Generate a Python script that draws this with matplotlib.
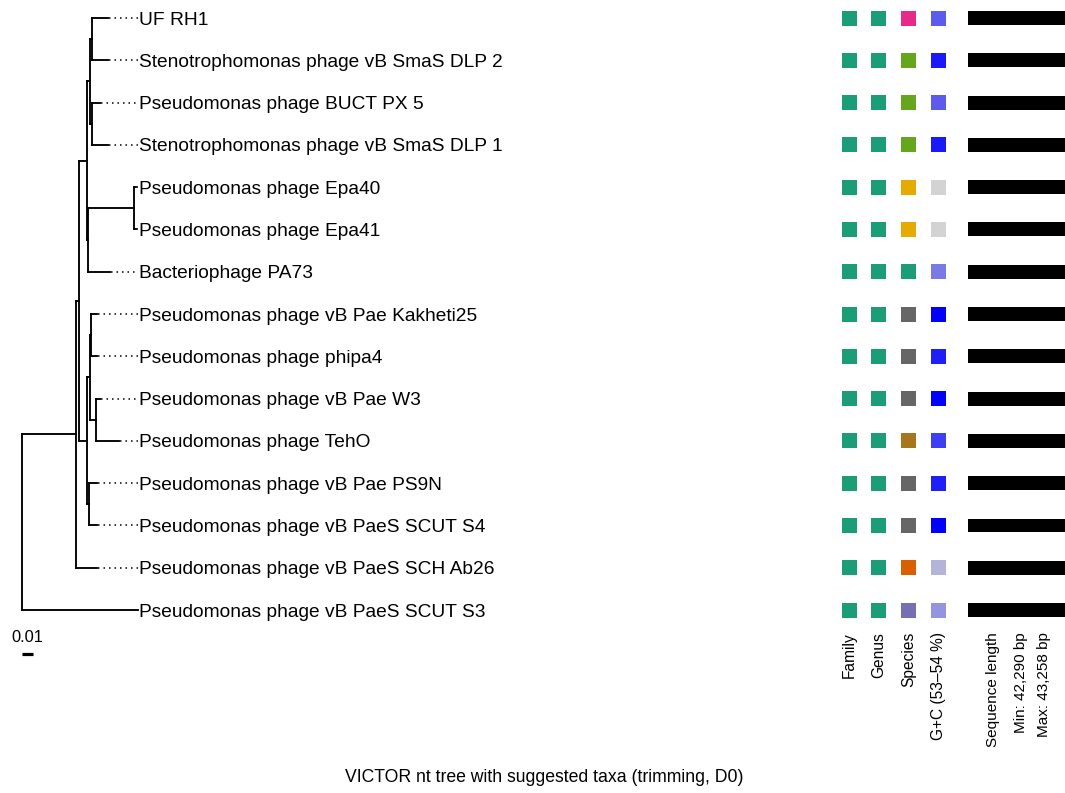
import matplotlib
matplotlib.use('Agg')
import matplotlib.pyplot as plt
from matplotlib.colors import LinearSegmentedColormap

plt.rcParams['font.family'] = ['Liberation Sans', 'DejaVu Sans']

# VICTOR tree (branch lengths)
tree_newick = (
    "((((((UF_RH1:0.0151,Stenotrophomonas_phage_vB_SmaS_DLP_2:0.0151):0.0019,"
    "(Pseudomonas_phage_BUCT_PX_5:0.0075,Stenotrophomonas_phage_vB_SmaS_DLP_1:0.0151):0.0019):0.0028,"
    "((Pseudomonas_phage_Epa40:0.0019,Pseudomonas_phage_Epa41:0.0019):0.0429,Bacteriophage_PA73:0.0203):0.0014):0.0075,"
    "(((Pseudomonas_phage_vB_Pae_Kakheti25:0.0057,Pseudomonas_phage_phipa4:0.0057):0.0009,"
    "(Pseudomonas_phage_vB_Pae_W3:0.0038,Pseudomonas_phage_TehO:0.0217):0.0057):0.0028,"
    "(Pseudomonas_phage_vB_Pae_PS9N:0.0075,Pseudomonas_phage_vB_PaeS_SCUT_S4:0.0075):0.0019):0.0075):0.0028,"
    "Pseudomonas_phage_vB_PaeS_SCH_Ab26:0.0198):0.0509,Pseudomonas_phage_vB_PaeS_SCUT_S3:0.1094);"
)

# suggested taxa per tip (tree order, top to bottom)
family_cluster = [1, 1, 1, 1, 1, 1, 1, 1, 1, 1, 1, 1, 1, 1, 1]
genus_cluster = [1, 1, 1, 1, 1, 1, 1, 1, 1, 1, 1, 1, 1, 1, 1]
species_cluster = [4, 5, 5, 5, 6, 6, 1, 8, 8, 8, 7, 8, 8, 2, 3]
gc_content = [53.57, 53.88, 53.57, 53.88, 53.00, 53.00, 53.42, 54.00,
              53.85, 54.00, 53.70, 53.85, 54.00, 53.15, 53.30]
seq_length = [42819, 43258, 42950, 43102, 42290, 42310, 42875, 43040,
              43010, 42990, 42760, 43020, 43080, 42600, 42700]

column_labels = ['Family', 'Genus', 'Species', 'G+C (53\u201354 %)']
length_labels = ['Sequence length', 'Min: 42,290 bp', 'Max: 43,258 bp']
title = 'VICTOR nt tree with suggested taxa (trimming, D0)'


def parse_newick(s):
    pos = 0

    def node():
        nonlocal pos
        children = []
        if s[pos] == '(':
            pos += 1
            children.append(node())
            while s[pos] == ',':
                pos += 1
                children.append(node())
            pos += 1
        start = pos
        while s[pos] not in ':,);':
            pos += 1
        name = s[start:pos].replace('_', ' ')
        length = 0.0
        if s[pos] == ':':
            pos += 1
            start = pos
            while s[pos] not in ',);':
                pos += 1
            length = float(s[start:pos])
        return {'name': name, 'len': length, 'children': children}

    return node()


tips = []


def layout(n, depth):
    n['x'] = depth + n['len']
    if not n['children']:
        n['y'] = len(tips)
        tips.append(n)
    else:
        for c in n['children']:
            layout(c, n['x'])
        n['y'] = (n['children'][0]['y'] + n['children'][-1]['y']) / 2


root = parse_newick(tree_newick)
layout(root, 0.0)
max_x = max(t['x'] for t in tips)

W, H = 1065, 793
fig = plt.figure(figsize=(W / 100, H / 100), dpi=100)

# rows: tip 0 at 18 px from top, 42.29 px apart
row_px0, row_dy = 18, 42.29
ylim = ((H - row_px0) / row_dy, -row_px0 / row_dy)

# tree panel
px_per_unit = 1060
ax = fig.add_axes([0, 0, 830 / W, 1])
ax.set_xlim(-22 / px_per_unit, (830 - 22) / px_per_unit)
ax.set_ylim(*ylim)
ax.axis('off')


def draw(n):
    if not n['children']:
        return
    for c in n['children']:
        ax.plot([n['x'], c['x']], [c['y'], c['y']], color='black', lw=1.35,
                solid_capstyle='projecting')
        draw(c)
    ax.plot([n['x'], n['x']], [n['children'][0]['y'], n['children'][-1]['y']],
            color='black', lw=1.35, solid_capstyle='projecting')


draw(root)

for t in tips:
    if t['x'] < max_x - 1e-9:
        ax.plot([t['x'] + 0.0012, max_x], [t['y'], t['y']], color='black', lw=1.1,
                linestyle=(0, (1, 2.6)))
    ax.text(max_x + 0.0006, t['y'], t['name'], ha='left', va='center_baseline',
            fontsize=13.8)

# scale bar
ax.plot([0, 0.01], [15.04, 15.04], color='black', lw=2.3, solid_capstyle='butt')
ax.text(0.005, 14.64, '0.01', ha='center', va='center', fontsize=11.8)

# taxa squares
dark2 = plt.get_cmap('Dark2').colors
gc_cmap = LinearSegmentedColormap.from_list('gc', ['#d3d3d3', '#0000ff'])
rows = [t['y'] for t in tips]

col_px0, col_dx = 849, 29.7
hx = fig.add_axes([830 / W, 0, 125 / W, 1])
hx.set_xlim((830 - col_px0) / col_dx, (955 - col_px0) / col_dx)
hx.set_ylim(*ylim)
hx.axis('off')

sq = (15 * 0.72) ** 2
hx.scatter([0] * len(rows), rows, s=sq, marker='s', linewidths=0,
           c=[dark2[k - 1] for k in family_cluster])
hx.scatter([1] * len(rows), rows, s=sq, marker='s', linewidths=0,
           c=[dark2[k - 1] for k in genus_cluster])
hx.scatter([2] * len(rows), rows, s=sq, marker='s', linewidths=0,
           c=[dark2[k - 1] for k in species_cluster])
hx.scatter([3] * len(rows), rows, s=sq, marker='s', linewidths=0,
           c=gc_content, cmap=gc_cmap, vmin=53, vmax=54)

label_y = (632 - row_px0) / row_dy
for i, lab in enumerate(column_labels):
    hx.text(i, label_y, lab, rotation=90, ha='center', va='top', fontsize=11.2)

# sequence length bars
bx = fig.add_axes([968 / W, 0, 97 / W, 1])
bx.set_xlim(0, min(seq_length))
bx.set_ylim(*ylim)
bx.axis('off')
bx.barh(rows, seq_length, height=0.33, color='black')

for xp, lab in zip([993, 1021, 1044], length_labels):
    fig.text(xp / W, 1 - 632 / H, lab, rotation=90, ha='center', va='top', fontsize=11.0)

fig.text(544 / W, 1 - 778 / H, title, ha='center', va='center', fontsize=12.7)

fig.savefig('out.png', dpi=100)
